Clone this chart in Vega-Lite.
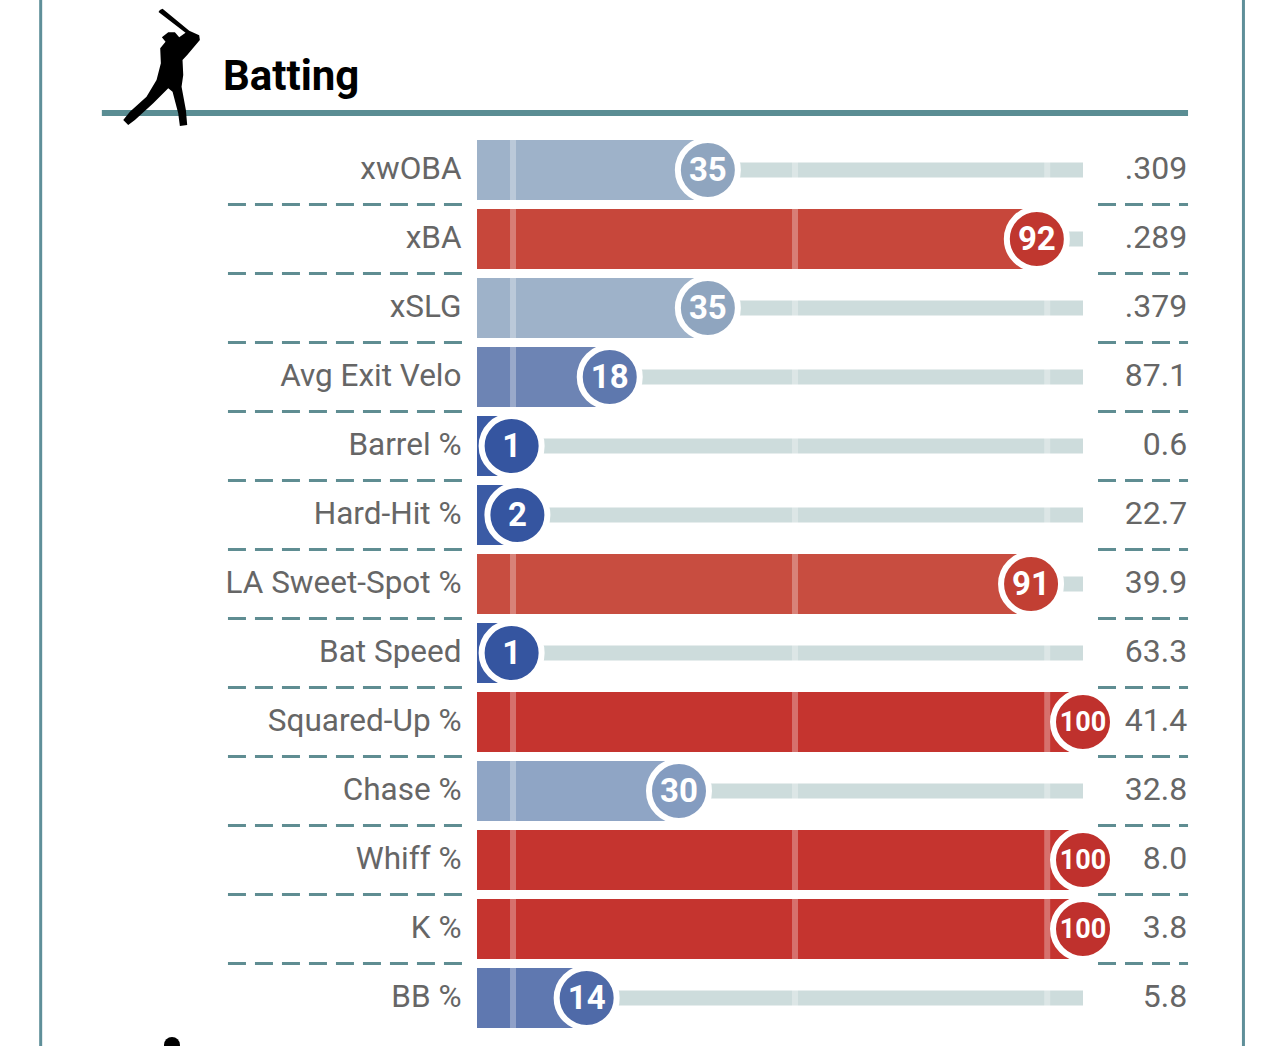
{
"$schema":"https://vega.github.io/schema/vega-lite/v6.json",
"width":606,"height":897,
"autosize":{"type":"none"},
"padding":{"left":477,"top":135.5,"right":201,"bottom":13.5},
"background":"white",
"config":{"view":{"stroke":null}},
"title":{"text":"Batting","anchor":"start","frame":"group","dx":-254,"offset":0,"dy":198,"baseline":"alphabetic","font":"Roboto","fontWeight":"bold","fontSize":42,"color":"black"},
"data":{"values":[
{"row":"xwOBA","percentile":35,"value":".309"},
{"row":"xBA","percentile":92,"value":".289"},
{"row":"xSLG","percentile":35,"value":".379"},
{"row":"Avg Exit Velo","percentile":18,"value":"87.1"},
{"row":"Barrel %","percentile":1,"value":"0.6"},
{"row":"Hard-Hit %","percentile":2,"value":"22.7"},
{"row":"LA Sweet-Spot %","percentile":91,"value":"39.9"},
{"row":"Bat Speed","percentile":1,"value":"63.3"},
{"row":"Squared-Up %","percentile":100,"value":"41.4"},
{"row":"Chase %","percentile":30,"value":"32.8"},
{"row":"Whiff %","percentile":100,"value":"8.0"},
{"row":"K %","percentile":100,"value":"3.8"},
{"row":"BB %","percentile":14,"value":"5.8"}
]},
"encoding":{
"y":{"field":"row","type":"nominal","sort":null,
"scale":{"domain":["xwOBA","xBA","xSLG","Avg Exit Velo","Barrel %","Hard-Hit %","LA Sweet-Spot %","Bat Speed","Squared-Up %","Chase %","Whiff %","K %","BB %"],"paddingInner":0.1304,"paddingOuter":0.0652},
"axis":{"title":null,"ticks":false,"domain":false,"labelFont":"Roboto","labelFontSize":31.5,"labelColor":"#666666","labelPadding":16,"labelLimit":400,"labelOffset":0}},
"x":{"field":"percentile","type":"quantitative","scale":{"domain":[-5,100],"nice":false,"zero":false},"axis":null}
},
"layer":[
{"mark":{"type":"tick","color":"#5f8f99","thickness":3,"size":1300,"orient":"vertical","opacity":1},
 "transform":[{"filter":"datum.row==='LA Sweet-Spot %'"},{"calculate":"-80.6","as":"pos"}],
 "encoding":{"x":{"field":"pos","type":"quantitative"}}},
{"mark":{"type":"tick","color":"#5f8f99","thickness":3,"size":1300,"orient":"vertical","opacity":1},
 "transform":[{"filter":"datum.row==='LA Sweet-Spot %'"},{"calculate":"127.8","as":"pos"}],
 "encoding":{"x":{"field":"pos","type":"quantitative"}}},
{"mark":{"type":"rule","color":"#5a8d93","strokeWidth":6,"yOffset":-57},
 "transform":[{"filter":"datum.row==='xwOBA'"},{"calculate":"-70","as":"lo"},{"calculate":"118.2","as":"hi"}],
 "encoding":{"x":{"field":"lo","type":"quantitative"},"x2":{"field":"hi"}}},
{"mark":{"type":"point","filled":true,"color":"black","opacity":1,"size":14400,"yOffset":-102,"shape":"M-0.033,-0.967L0.011,-0.989L0.456,-0.622L0.622,-0.544L0.633,-0.467L0.422,-0.217L0.344,-0.133L0.356,0.117L0.328,0.311L0.4,0.7L0.422,0.95L0.3,0.967L0.272,0.756L0.178,0.394L0.106,0.339L-0.144,0.589L-0.45,0.867L-0.561,0.95L-0.644,0.867L-0.533,0.728L-0.256,0.478L-0.089,0.2L-0.017,-0.078L-0.028,-0.328L0.061,-0.439L0,-0.511L0.106,-0.594L0.217,-0.594L0.289,-0.511L0.394,-0.589L-0.056,-0.933Z"},
 "transform":[{"filter":"datum.row==='xwOBA'"},{"calculate":"-59.6","as":"pos"}],
 "encoding":{"x":{"field":"pos","type":"quantitative"}}},
{"mark":{"type":"point","filled":true,"color":"black","opacity":1,"size":256,"yOffset":47,"shape":"circle"},
 "transform":[{"filter":"datum.row==='BB %'"},{"calculate":"-57.85","as":"pos"}],
 "encoding":{"x":{"field":"pos","type":"quantitative"}}},
{"mark":{"type":"rule","color":"#5f8d92","strokeWidth":3,"strokeDash":[18,9],"yOffset":34.5},
 "transform":[{"filter":"datum.row!=='BB %'"},{"calculate":"-48.15","as":"lo"},{"calculate":"-7.6","as":"hi"}],
 "encoding":{"x":{"field":"lo","type":"quantitative"},"x2":{"field":"hi"}}},
{"mark":{"type":"rule","color":"#5f8d92","strokeWidth":3,"strokeDash":[18,9],"yOffset":34.5},
 "transform":[{"filter":"datum.row!=='BB %'"},{"calculate":"102.6","as":"lo"},{"calculate":"118.2","as":"hi"}],
 "encoding":{"x":{"field":"lo","type":"quantitative"},"x2":{"field":"hi"}}},
{"mark":{"type":"rule","color":"#cddcdc","strokeWidth":15},
 "transform":[{"calculate":"100","as":"hi"}],
 "encoding":{"x2":{"field":"hi"}}},
{"mark":{"type":"bar","opacity":1},
 "transform":[{"calculate":"-5","as":"lo"}],
 "encoding":{"x":{"field":"lo","type":"quantitative"},"x2":{"field":"percentile"},
  "color":{"field":"percentile","type":"nominal","legend":null,"scale":{"domain":[1,2,14,18,30,35,91,92,100],"range":["#3b5ba5","#3b5ba5","#5f78b0","#6d84b4","#8fa5c5","#9eb2c9","#c84d40","#c7473b","#c5342f"]}}}},
{"data":{"values":[{"mark":1.24,"row":"LA Sweet-Spot %"},{"mark":50.1,"row":"LA Sweet-Spot %"},{"mark":93.8,"row":"LA Sweet-Spot %"}]},
 "mark":{"type":"tick","color":"white","opacity":0.3,"thickness":6,"size":897,"orient":"vertical"},
 "encoding":{"x":{"field":"mark","type":"quantitative"}}},
{"mark":{"type":"point","filled":true,"size":3600,"shape":"circle","stroke":"white","strokeWidth":6,"opacity":1},
 "encoding":{
  "fill":{"field":"percentile","type":"nominal","legend":null,"scale":{"domain":[1,2,14,18,30,35,91,92,100],"range":["#3555a0","#3555a0","#4f6aa8","#5e78ae","#849cc0","#8fa5bf","#c23f33","#c0372f","#bf312d"]}}}},
{"mark":{"type":"text","color":"white","font":"Roboto","fontWeight":"bold","fontSize":33,"baseline":"middle","align":"center","dy":1},
 "transform":[{"filter":"datum.percentile<100"}],
 "encoding":{"text":{"field":"percentile","type":"quantitative"}}},
{"mark":{"type":"text","color":"white","font":"Roboto","fontWeight":"bold","fontSize":27,"baseline":"middle","align":"center","dy":1},
 "transform":[{"filter":"datum.percentile===100"}],
 "encoding":{"text":{"field":"percentile","type":"quantitative"}}},
{"mark":{"type":"text","color":"#666666","font":"Roboto","fontSize":32,"align":"right","baseline":"middle","dy":-1},
 "transform":[{"calculate":"118.05","as":"pos"}],
 "encoding":{"x":{"field":"pos","type":"quantitative"},"text":{"field":"value","type":"nominal"}}}
]
}
